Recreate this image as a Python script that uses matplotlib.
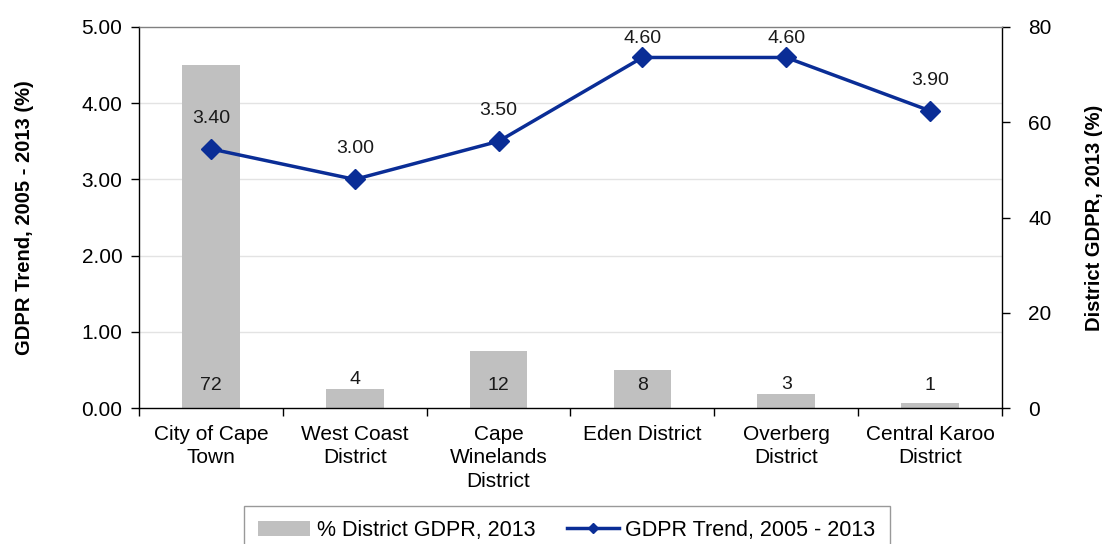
import matplotlib
matplotlib.use("Agg")
import matplotlib.pyplot as plt
import numpy as np
from matplotlib.lines import Line2D
from matplotlib.patches import Patch

plt.rcParams['font.family'] = ['Liberation Sans', 'DejaVu Sans']

categories = ["City of Cape\nTown", "West Coast\nDistrict", "Cape\nWinelands\nDistrict",
              "Eden District", "Overberg\nDistrict", "Central Karoo\nDistrict"]
district_share = [72, 4, 12, 8, 3, 1]
trend = [3.40, 3.00, 3.50, 4.60, 4.60, 3.90]
left_ticks = [0, 1, 2, 3, 4, 5]
right_ticks = [0, 20, 40, 60, 80]

bar_color = '#C0C0C0'
line_color = '#0A2D96'
text_color = '#1a1a1a'

fig = plt.figure(figsize=(11.02, 5.44), dpi=100)
ax = fig.add_axes([139/1102, 1-408/544, (1002-139)/1102, (408-27)/544])
ax2 = ax.twinx()
x = np.arange(len(categories))

# Bars (right scale)
ax.bar(x, district_share, width=0.4, color=bar_color, zorder=2)
ax.set_ylim(0, 80)
ax.set_xlim(-0.5, len(categories) - 0.5)
ax.yaxis.tick_right()
ax.yaxis.set_label_position('right')
ax.set_yticks(right_ticks)
ax.set_yticklabels([str(t) for t in right_ticks], fontsize=15)
ax.set_ylabel('District GDPR, 2013 (%)', fontsize=14.5, fontweight='bold', labelpad=24)
ax.tick_params(axis='y', which='major', direction='out', length=6, width=1, pad=13)
ax.set_yticks([16, 32, 48, 64], minor=True)
ax.tick_params(axis='y', which='minor', length=0)
ax.grid(axis='y', which='minor', color='#E3E3E3', linewidth=1, zorder=0)
ax.set_axisbelow(True)

# x axis: boundary ticks + category labels
ax.set_xticks(np.arange(-0.5, len(categories), 1))
ax.set_xticklabels([])
ax.tick_params(axis='x', which='major', direction='out', length=6, width=1)
ax.set_xticks(x, minor=True)
ax.set_xticklabels(categories, minor=True, fontsize=15, linespacing=1.3)
ax.tick_params(axis='x', which='minor', length=0, pad=12)

for sp in ['left', 'right', 'bottom']:
    ax.spines[sp].set_color('black')
    ax.spines[sp].set_linewidth(1)
ax.spines['top'].set_color('#808080')
ax.spines['top'].set_linewidth(1)

for xi, v in zip(x, district_share):
    ypos = 4.8 if v >= 7 else max(4.8, v + 2.0)
    ax.text(xi, ypos, f'{v}', ha='center', va='center', fontsize=14, color=text_color, zorder=3)

# Line (left scale)
ax2.plot(x, trend, color=line_color, linewidth=2.5, marker='D', markersize=10, zorder=4)
ax2.set_ylim(0, 5)
ax2.yaxis.tick_left()
ax2.yaxis.set_label_position('left')
ax2.set_yticks(left_ticks)
ax2.set_yticklabels([f'{t:.2f}' for t in left_ticks], fontsize=15)
ax2.tick_params(axis='y', direction='out', length=6, width=1, pad=6)
ax2.set_ylabel('GDPR Trend, 2005 - 2013 (%)', fontsize=14.5, fontweight='bold', labelpad=34)
for sp in ax2.spines.values():
    sp.set_visible(False)

for xi, v in zip(x, trend):
    ypos = min(v + 0.40, 4.85)
    ax2.text(xi, ypos, f'{v:.2f}', ha='center', va='center', fontsize=14, color=text_color)

handles = [Patch(facecolor=bar_color, edgecolor='none'),
           Line2D([0], [0], color=line_color, linewidth=2.5, marker='D', markersize=5)]
labels = ['% District GDPR, 2013', 'GDPR Trend, 2005 - 2013']
leg = fig.legend(handles, labels, loc='upper center', bbox_to_anchor=(567/1102, 1-506/544),
                 ncol=2, fontsize=15.5, frameon=True, fancybox=False, edgecolor='#808080',
                 handlelength=2.4, columnspacing=1.5, borderpad=0.65, handletextpad=0.3,
                 borderaxespad=0)
leg.get_frame().set_linewidth(1)

fig.savefig('out.png', dpi=100)
